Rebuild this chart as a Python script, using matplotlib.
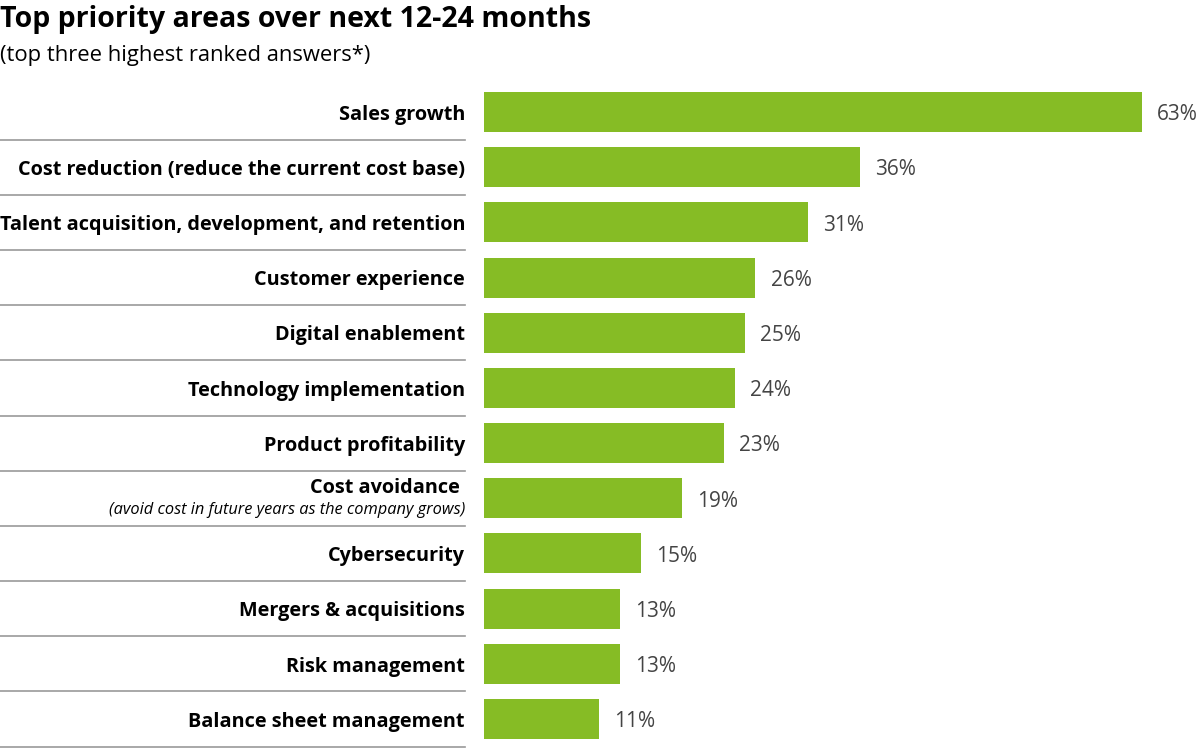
import matplotlib.pyplot as plt
import matplotlib.transforms as mtransforms

categories = [
    "Sales growth",
    "Cost reduction (reduce the current cost base)",
    "Talent acquisition, development, and retention",
    "Customer experience",
    "Digital enablement",
    "Technology implementation",
    "Product profitability",
    "Cost avoidance",
    "Cybersecurity",
    "Mergers & acquisitions",
    "Risk management",
    "Balance sheet management",
]
values = [63, 36, 31, 26, 25, 24, 23, 19, 15, 13, 13, 11]
notes = {"Cost avoidance": "(avoid cost in future years as the company grows)"}

plt.rcParams['font.family'] = ['Open Sans', 'DejaVu Sans']

W, H = 1200, 749
fig = plt.figure(figsize=(W / 100, H / 100), dpi=100)
ax = fig.add_axes([484 / W, 1 - 746.6 / H, 1 - 484 / W, (746.6 - 84.4) / H])

y = list(range(len(categories)))
ax.barh(y, values, height=40 / 55.2, color='#86BC25', left=0)
ax.set_xlim(0, (W - 484) / 10.44)
ax.set_ylim(len(categories) - 0.5, -0.5)
ax.axis('off')

dy = 0.05  # pequeño ajuste vertical del texto

# etiquetas de valor
for yi, v in zip(y, values):
    ax.text(v + 1.45, yi + dy, f"{v}%", va='center', ha='left', fontsize=15, color='#444444')

# etiquetas de categoría y separadores
trans = mtransforms.blended_transform_factory(fig.transFigure, ax.transData)
lx = 465 / W
for yi, cat in zip(y, categories):
    if cat in notes:
        ax.text(lx, yi - 0.18, cat + " ", transform=trans, ha='right', va='center',
                fontsize=14.3, fontweight='bold', color='#000000')
        ax.text(lx, yi + 0.22, notes[cat], transform=trans, ha='right', va='center',
                fontsize=11.8, fontstyle='italic', color='#000000')
    else:
        ax.text(lx, yi + dy, cat, transform=trans, ha='right', va='center',
                fontsize=14.3, fontweight='bold', color='#000000')
    ax.plot([0, lx], [yi + 0.5, yi + 0.5], transform=trans, color='#999999',
            linewidth=1.2, clip_on=False)

fig.text(0, 1 - 19 / H, "Top priority areas over next 12-24 months", ha='left', va='center',
         fontsize=20.5, fontweight='bold', color='#000000')
fig.text(0, 1 - 55 / H, "(top three highest ranked answers*)", ha='left', va='center',
         fontsize=15.8, color='#000000')

fig.savefig("out.png", dpi=100)
